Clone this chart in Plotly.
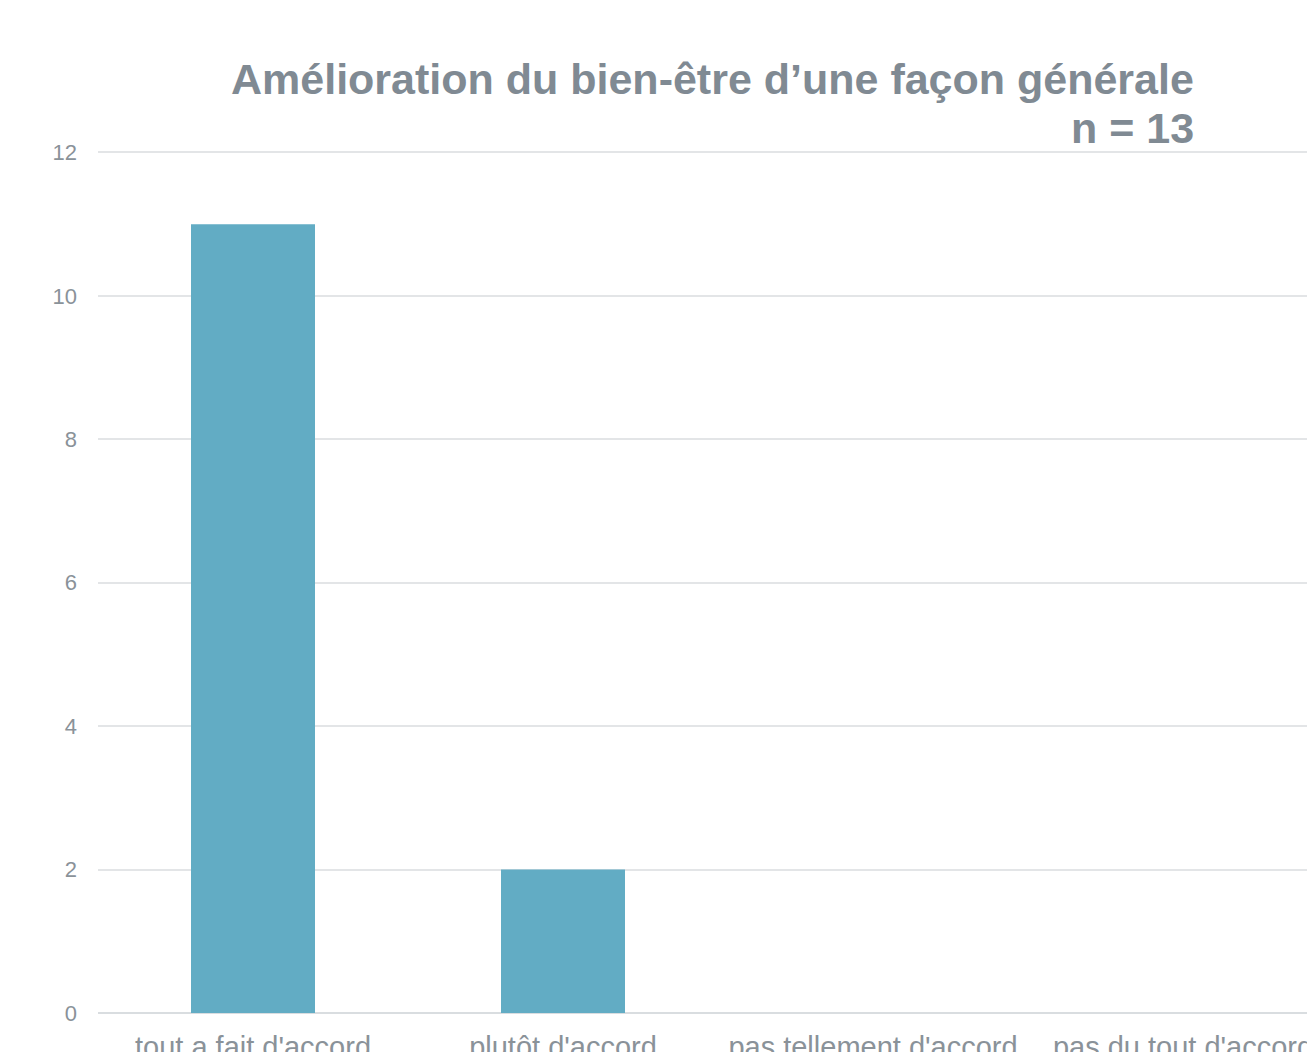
import plotly.graph_objects as go

categories = ["tout a fait d'accord", "plutôt d'accord", "pas tellement d'accord", "pas du tout d'accord"]
values = [11, 2, 0, 0]
title_lines = ["Amélioration du bien-être d’une façon générale", "n = 13"]

W, H = 1315, 1052
ml, mt, mb, mr = 90, 143, 47, 0
plotH = H - mt - mb

fig = go.Figure(go.Bar(x=categories, y=values, marker=dict(color="#62acc4", line=dict(width=0)), width=0.4))

fig.update_layout(
    width=W, height=H,
    margin=dict(l=ml, r=mr, t=mt, b=mb, pad=0, autoexpand=False),
    paper_bgcolor="white", plot_bgcolor="white",
    showlegend=False,
    font=dict(family="Liberation Sans, Arial, sans-serif", color="#8a9299"),
)
fig.update_xaxes(
    range=[-0.5, -0.5 + (W - ml) / 310.0],
    showgrid=False, showline=False, zeroline=False, automargin=False,
    tickfont=dict(size=29, color="#8a9299"),
    ticks="", ticklabelstandoff=14,
)
fig.update_yaxes(
    range=[0, 12.02], tickvals=[0, 2, 4, 6, 8, 10, 12],
    showgrid=True, gridcolor="#e3e5e7", gridwidth=1.5,
    zeroline=True, zerolinecolor="#d9dde0", zerolinewidth=2,
    showline=False, automargin=False,
    tickfont=dict(size=22, color="#8a9299"),
    ticks="", ticklabelstandoff=20,
)
for line, yc in zip(title_lines, [71, 120]):
    fig.add_annotation(
        x=1179 / W, xref="paper", xanchor="right",
        y=1 + (mt - yc) / plotH, yref="paper", yanchor="middle",
        text="<b>" + line + "</b>",
        showarrow=False, align="right",
        font=dict(size=43, color="#808a93", family="Liberation Sans, Arial, sans-serif"),
    )
fig.write_html("out.html")
